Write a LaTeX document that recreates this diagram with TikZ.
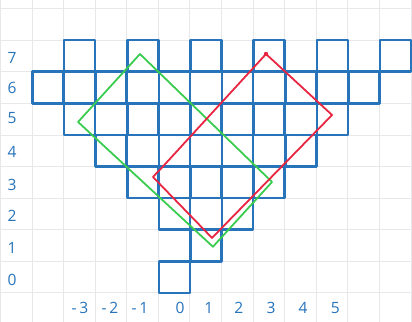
\documentclass[tikz,border=0pt]{standalone}
\usepackage{fontspec}
\setmainfont{Open Sans}
\definecolor{gridgray}{RGB}{232,232,234}
\definecolor{penblue}{RGB}{40,116,186}
\definecolor{pengreen}{RGB}{58,204,78}
\definecolor{penred}{RGB}{232,36,64}
\tikzset{
  gridline/.style={draw=gridgray, line width=0.7pt},
  cellbox/.style={draw=penblue, line width=2.3pt, line join=round, line cap=round},
  greenpath/.style={draw=pengreen, line width=1.6pt, line join=round, line cap=round},
  redpath/.style={draw=penred, line width=1.6pt, line join=round, line cap=round},
  axlabel/.style={text=penblue, font=\fontsize{14}{16}\selectfont, inner sep=0pt}
}
\begin{document}
\begin{tikzpicture}
\useasboundingbox (-5.01,-0.92) rectangle (8.03,9.27);
\fill[white] (-5.01,-0.92) rectangle (8.03,9.27);
\begin{scope}
\clip (-5.01,-0.92) rectangle (8.03,9.27);
\foreach \x in {-5,...,8} \draw[gridline] (\x,-1) -- (\x,10);
\foreach \y in {-1,...,9} \draw[gridline] (-6,\y) -- (9,\y);
\end{scope}
% blue squares (checkerboard cells)
\foreach \c/\r in {0/0, 1/1, 0/2, 2/2, -1/3, 1/3, 3/3,
  -2/4, 0/4, 2/4, 4/4, -3/5, -1/5, 1/5, 3/5, 5/5,
  -4/6, -2/6, 0/6, 2/6, 4/6, 6/6, -3/7, -1/7, 1/7, 3/7, 5/7, 7/7}
  \draw[cellbox] (\c+0.02,\r+0.0) rectangle (\c+1.0,\r+1.0);
% green rectangle
\coordinate (gt) at (-0.58,7.56);
\coordinate (gl) at (-2.54,5.41);
\coordinate (gb) at (1.73,1.46);
\coordinate (gr) at (3.60,3.51);
\draw[greenpath] (gt) -- (gl) -- (gb) -- (gr) -- cycle;
% red rectangle
\coordinate (rt) at (3.41,7.56);
\coordinate (rr) at (5.50,5.63);
\coordinate (rb) at (1.70,1.74);
\coordinate (rl) at (-0.17,3.67);
\draw[redpath] (rt) -- (rr) -- (rb) -- (rl) -- (0.1,3.95) -- cycle;
\fill[penred] (rt) circle (0.07);
% row labels
\node[axlabel] (y7) at (-4.63,7.44) {7};
\node[axlabel] (y6) at (-4.63,6.49) {6};
\node[axlabel] (y5) at (-4.63,5.52) {5};
\node[axlabel] (y4) at (-4.63,4.46) {4};
\node[axlabel] (y3) at (-4.63,3.42) {3};
\node[axlabel] (y2) at (-4.63,2.44) {2};
\node[axlabel] (y1) at (-4.63,1.42) {1};
\node[axlabel] (y0) at (-4.63,0.41) {0};
% column labels
\node[axlabel] (xm3) at (-2.48,-0.47) {-\,3};
\node[axlabel] (xm2) at (-1.53,-0.47) {-\,2};
\node[axlabel] (xm1) at (-0.58,-0.47) {-\,1};
\node[axlabel] (x0) at (0.69,-0.47) {0};
\node[axlabel] (x1) at (1.60,-0.47) {1};
\node[axlabel] (x2) at (2.55,-0.47) {2};
\node[axlabel] (x3) at (3.57,-0.47) {3};
\node[axlabel] (x4) at (4.58,-0.47) {4};
\node[axlabel] (x5) at (5.60,-0.47) {5};
\end{tikzpicture}
\end{document}
